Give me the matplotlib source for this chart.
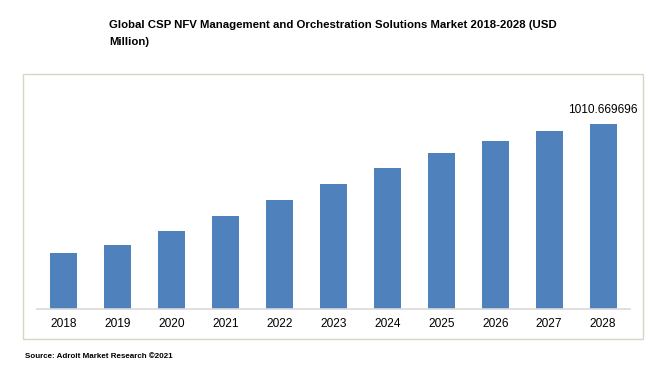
import matplotlib.pyplot as plt
from matplotlib.patches import Rectangle

plt.rcParams['font.family'] = ['Liberation Sans', 'DejaVu Sans']

years = ['2018', '2019', '2020', '2021', '2022', '2023', '2024', '2025', '2026', '2027', '2028']
values = [307, 351, 427, 509, 596, 683, 769, 851, 916, 971, 1010.669696]
last_label = '1010.669696'

W, H = 669, 371
fig = plt.figure(figsize=(W / 100, H / 100), dpi=100)

# outer chart frame
fig.patches.append(Rectangle((23 / W, 1 - 339 / H), (643 - 23) / W, (339 - 74) / H,
                             transform=fig.transFigure, fill=False,
                             edgecolor='#D9D5C3', linewidth=1.0))

# plot area: x 37..630, baseline at y=309.3
ax = fig.add_axes([37 / W, 1 - 309.3 / H, (630 - 37) / W, (309.3 - 90) / H])
ax.bar(range(len(years)), values, width=0.5, color='#4F81BD')
ax.set_xlim(-0.5, len(years) - 0.5)
ax.set_ylim(0, 1010.669696 * (309.3 - 90) / (309.3 - 124))
ax.set_xticks(range(len(years)))
ax.set_xticklabels(years, fontsize=8.6)
ax.tick_params(axis='x', length=0, pad=6)
ax.set_yticks([])
for s in ['top', 'left', 'right']:
    ax.spines[s].set_visible(False)
ax.spines['bottom'].set_color('#D9D9D9')
ax.spines['bottom'].set_linewidth(1.2)

ax.annotate(last_label, (len(years) - 1, values[-1]), xytext=(0, 6),
            textcoords='offset points', ha='center', va='bottom', fontsize=8.6)

fig.text(109 / W, 1 - 25 / H, 'Global CSP NFV Management and Orchestration Solutions Market 2018-2028 (USD',
         fontsize=8.2, fontweight='bold', va='center', ha='left')
fig.text(109 / W, 1 - 42 / H, 'Million)', fontsize=8.2, fontweight='bold', va='center', ha='left')
fig.text(25 / W, 1 - 356 / H, 'Source: Adroit Market Research \u00a92021',
         fontsize=5.8, fontweight='bold', va='center', ha='left')

fig.savefig('out.png', dpi=100)
